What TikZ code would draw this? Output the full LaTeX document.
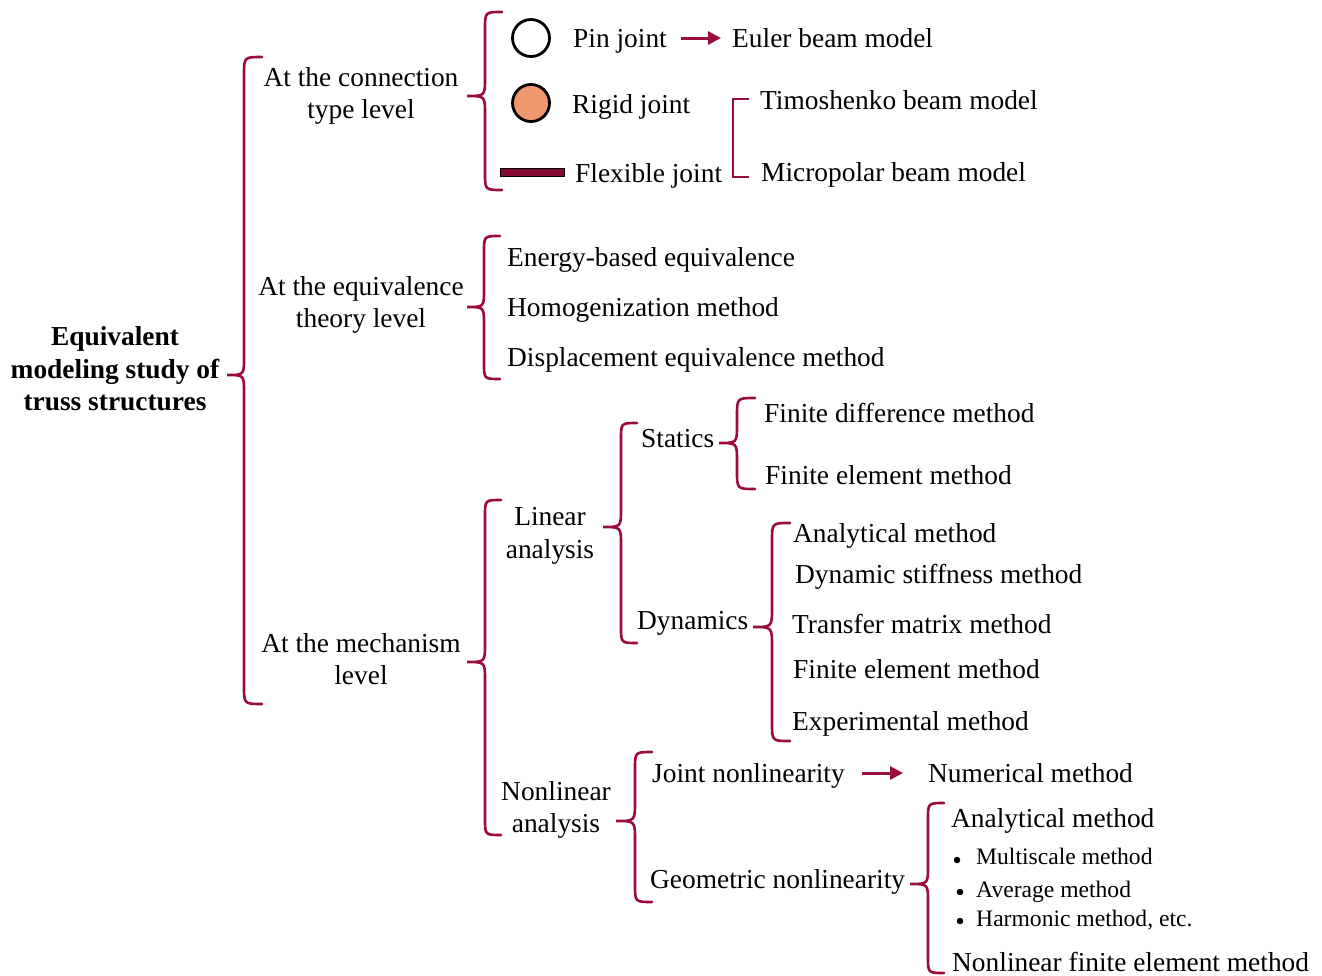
\documentclass[tikz,border=0pt]{standalone}
\usepackage{fontspec}
\setmainfont{Liberation Serif}
\usepackage{tikz}
\usetikzlibrary{arrows.meta, positioning}
\definecolor{wine}{RGB}{155,12,58}
\definecolor{salmon}{RGB}{240,152,112}
\newcommand\curly[6]{% tip x, tip y, line x, end x, top y, bottom y
  \draw [brc] (#4,#5) .. controls (#3,#5) .. (#3,{#5+#4-#3})
    -- (#3,{#2-#3+#1}) .. controls (#3,#2) .. (#1,#2)
    .. controls (#3,#2) .. (#3,{#2+#3-#1})
    -- (#3,{#6-#4+#3}) .. controls (#3,#6) .. (#4,#6);}
\tikzset{
  txt/.style = {anchor=base west, inner sep=0pt,
    font=\fontsize{27.4}{32.5}\selectfont},
  grp/.style = {align=center, inner sep=0pt,
    font=\fontsize{27.4}{32.5}\selectfont},
  sub/.style = {anchor=base west, inner sep=0pt,
    font=\fontsize{23.6}{28}\selectfont},
  dot/.style = {circle, fill=black, inner sep=0pt, minimum size=6.5pt},
  brc/.style = {draw=wine, line width=2.6pt, line cap=round},
  arr/.style = {wine, line width=3pt, -{Triangle[length=13pt,width=13pt]}},
  joint/.style = {circle, draw=black, line width=2.8pt,
    minimum size=37pt, inner sep=0pt}
}
\begin{document}
\begin{tikzpicture}[x=1pt, y=-1pt]
\useasboundingbox (0,0) rectangle (1322,975);
\node [grp, font=\fontsize{27.4}{32.5}\selectfont\bfseries] (root) at (115,369)
  {Equivalent\\modeling study of\\truss structures};
\curly{227}{375}{244}{262}{57}{704}
\node [grp] (conn) at (361,96) {At the connection\\type level};
\node [grp] (equi) at (361,305) {At the equivalence\\theory level};
\node [grp] (mech) at (361,659) {At the mechanism\\level};

\curly{467}{96}{485}{502}{12}{190}
\node [joint] (pinc) at (531,38) {};
\node [joint, fill=salmon] (rigc) at (531,103) {};
\node [draw=black, fill=wine!85!black, line width=0.8pt, inner sep=0pt,
  minimum width=64pt, minimum height=8pt] (flexbar) at (532,172) {};
\node [txt] (pin) at (573,47) {Pin joint};
\node [txt] (rigid) at (572,113) {Rigid joint};
\node [txt] (flex) at (575,182) {Flexible joint};
\node [txt] (euler) at (732,47) {Euler beam model};
\node [txt] (timo) at (760,109) {Timoshenko beam model};
\node [txt] (micro) at (761,181) {Micropolar beam model};
\draw [arr] ([shift={(14,-9)}]pin.base east) -- ([shift={(-11,-9)}]euler.base west);
\draw [brc, line cap=butt] ([shift={(-11,-10)}]timo.base west) -- ++(-16,0)
  |- ([shift={(-12,-4)}]micro.base west);

\curly{467}{307}{484}{500}{236}{379}
\node [txt] (energy) at (507,266) {Energy-based equivalence};
\node [txt] (homog) at (507,316) {Homogenization method};
\node [txt] (displ) at (507,366) {Displacement equivalence method};

\curly{467}{662}{485}{501}{500}{835}
\node [grp] (lin) at (550,536) {Linear\\analysis};
\node [grp] (nonlin) at (556,810) {Nonlinear\\analysis};

\curly{603}{527}{621}{637}{423}{643}
\node [txt] (statics) at (641,447) {Statics};
\node [txt] (dyn) at (637,629) {Dynamics};

\curly{719}{443}{737}{755}{398}{489}
\node [txt] (fdm) at (764,422) {Finite difference method};
\node [txt] (fems) at (765,484) {Finite element method};

\curly{753}{627}{772}{790}{523}{741}
\node [txt] (anad) at (793,542) {Analytical method};
\node [txt] (dsm) at (795,583) {Dynamic stiffness method};
\node [txt] (tmm) at (792,633) {Transfer matrix method};
\node [txt] (femd) at (793,678) {Finite element method};
\node [txt] (exper) at (792,730) {Experimental method};

\curly{616}{821}{635}{652}{752}{902}
\node [txt] (jnl) at (652,782) {Joint nonlinearity};
\node [txt] (numer) at (928,782) {Numerical method};
\node [txt] (gnl) at (650,888) {Geometric nonlinearity};
\draw [arr] ([shift={(17,-9)}]jnl.base east) -- ([shift={(-25,-9)}]numer.base west);

\curly{910}{884}{928}{944}{803}{973}
\node [txt] (anag) at (951,827) {Analytical method};
\node [dot] (d1) at (957,860) {};
\node [dot] (d2) at (960,892) {};
\node [dot] (d3) at (960,921) {};
\node [sub] (multi) at (976,864) {Multiscale method};
\node [sub] (aver) at (976,897) {Average method};
\node [sub] (harm) at (976,926) {Harmonic method, etc.};
\node [txt] (nfem) at (952,971) {Nonlinear finite element method};
\end{tikzpicture}
\end{document}
